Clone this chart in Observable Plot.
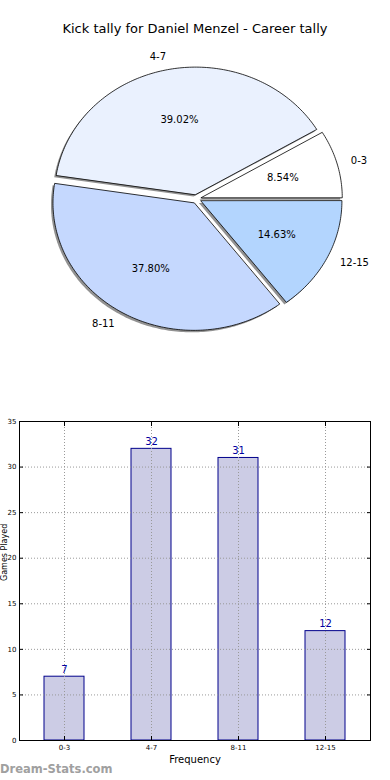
<!DOCTYPE html>
<html>
<head>
<meta charset="utf-8">
<script src="https://cdn.jsdelivr.net/npm/d3@7"></script>
<script src="https://cdn.jsdelivr.net/npm/@observablehq/plot@0.6"></script>
<style>
  html, body { margin: 0; padding: 0; background: #fff; }
  body { width: 390px; height: 780px; position: relative; overflow: hidden; font-family: "DejaVu Sans", sans-serif; }
  #title { position: absolute; top: 21px; left: 0; width: 390px; text-align: center; font-size: 13px; color: #000; }
  #pie { position: absolute; top: 0; left: 0; }
  #bar { position: absolute; top: 400px; left: 0; }
  #mark { position: absolute; left: 0; top: 762px; font-size: 11.5px; font-weight: bold; color: #a0a0a0; }
</style>
</head>
<body>
<div id="pie"></div>
<div id="title">Kick tally for Daniel Menzel - Career tally</div>
<div id="bar"></div>
<div id="mark">Dream-Stats.com</div>
<script>
const categories = ["0-3", "4-7", "8-11", "12-15"];
const tally = [7, 32, 31, 12];
const pieColors = ["#ffffff", "#eaf1fe", "#c5d8fe", "#b3d5fe"];
const yTicks = [0, 5, 10, 15, 20, 25, 30, 35];
const xLabel = "Frequency";
const yLabel = "Games Played";

// ---- pie geometry from data ----
const total = d3.sum(tally);
const explode = 0.035;
let acc = 0;
const wedges = categories.map((c, i) => {
  const a0 = acc / total * 2 * Math.PI;
  acc += tally[i];
  const a1 = acc / total * 2 * Math.PI;
  const mid = (a0 + a1) / 2;
  return { c, i, a0, a1, mid, pct: (tally[i] / total * 100).toFixed(2) + "%" };
});
const piePts = wedges.flatMap(w => {
  const ox = explode * Math.cos(w.mid), oy = explode * Math.sin(w.mid);
  const n = Math.max(8, Math.ceil((w.a1 - w.a0) / (Math.PI / 180)));
  const pts = [{ c: w.c, x: ox, y: oy }];
  for (let k = 0; k <= n; k++) {
    const a = w.a0 + (w.a1 - w.a0) * k / n;
    pts.push({ c: w.c, x: ox + Math.cos(a), y: oy + Math.sin(a) });
  }
  return pts;
});
const labelPts = wedges.map(w => ({
  c: w.c,
  x: (1.1 + explode) * Math.cos(w.mid),
  y: (1.1 + explode) * Math.sin(w.mid),
  right: Math.cos(w.mid) >= 0
}));
const pctPts = wedges.map(w => ({
  t: w.pct,
  x: (0.6 + explode) * Math.cos(w.mid),
  y: (0.6 + explode) * Math.sin(w.mid)
}));

const pie = Plot.plot({
  width: 390, height: 400, margin: 0,
  x: { domain: [-1, 1], range: [55, 337], axis: null },
  y: { domain: [-1, 1], range: [326, 71], axis: null },
  color: { type: "ordinal", domain: categories, range: pieColors },
  style: { fontFamily: "DejaVu Sans", fontSize: "10px", background: "transparent" },
  marks: [
    Plot.line(piePts, { x: "x", y: "y", z: "c", fill: "#4a4a4a", fillOpacity: 0.6, stroke: "none", curve: "linear-closed", dx: -2, dy: 2 }),
    Plot.line(piePts, { x: "x", y: "y", z: "c", fill: "c", stroke: "black", strokeWidth: 0.8, curve: "linear-closed" }),
    Plot.text(labelPts.filter(d => d.right), { x: "x", y: "y", text: "c", textAnchor: "start", fill: "black" }),
    Plot.text(labelPts.filter(d => !d.right), { x: "x", y: "y", text: "c", textAnchor: "end", fill: "black" }),
    Plot.text(pctPts, { x: "x", y: "y", text: "t", textAnchor: "middle", fill: "black" })
  ]
});
document.getElementById("pie").appendChild(pie);

// ---- bar chart ----
const barData = categories.map((c, i) => ({ cat: c, v: tally[i] }));
const bar = Plot.plot({
  width: 390, height: 380,
  marginTop: 21, marginBottom: 40, marginLeft: 19, marginRight: 20,
  x: { domain: categories, paddingInner: 0.545, paddingOuter: 0.2725 },
  y: { domain: [0, 35] },
  style: { fontFamily: "DejaVu Sans", fontSize: "7px", background: "transparent" },
  marks: [
    Plot.barY(barData, { x: "cat", y: "v", fill: "#ccccE5", stroke: "#00008b", strokeWidth: 1 }),
    Plot.gridY(yTicks, { stroke: "#999", strokeOpacity: 1, strokeDasharray: "1,2" }),
    Plot.gridX(categories, { stroke: "#999", strokeOpacity: 1, strokeDasharray: "1,2" }),
    Plot.text(barData, { x: "cat", y: "v", text: d => String(d.v), dy: -7, fill: "#0000a0", fontSize: 10 }),
    Plot.axisY(yTicks, { anchor: "left", tickSize: -4, tickPadding: 7, label: null, fontSize: 7 }),
    Plot.axisY(yTicks, { anchor: "right", tickSize: -4, tickFormat: () => "", label: null }),
    Plot.axisX(categories, { anchor: "bottom", tickSize: -4, tickPadding: 9, label: null, fontSize: 7 }),
    Plot.axisX(categories, { anchor: "top", tickSize: -4, tickFormat: () => "", label: null }),
    Plot.text([xLabel], { frameAnchor: "bottom", dy: 22, fontSize: 10, fill: "black" }),
    Plot.text([yLabel], { frameAnchor: "left", rotate: -90, dx: -15, fontSize: 8, fill: "black" }),
    Plot.frame({ stroke: "black" })
  ]
});
document.getElementById("bar").appendChild(bar);
</script>
</body>
</html>
